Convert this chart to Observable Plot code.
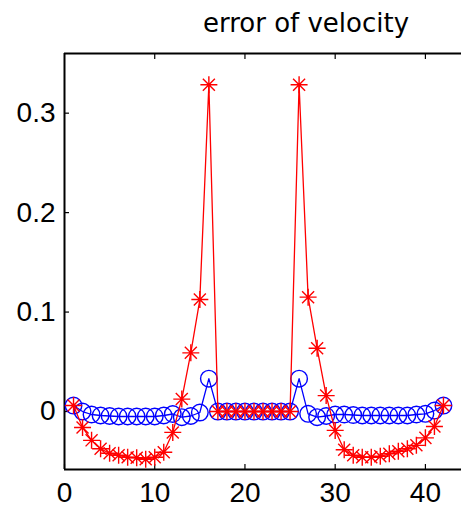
<!DOCTYPE html>
<html>
<head>
<meta charset="utf-8">
<script src="https://cdn.jsdelivr.net/npm/d3@7"></script>
<script src="https://cdn.jsdelivr.net/npm/@observablehq/plot@0.6"></script>
<style>
  html, body { margin: 0; padding: 0; background: #fff; overflow: hidden; }
</style>
</head>
<body>
<div id="chart"></div>
<script>
const title = "error of velocity";
const idx = d3.range(1, 43);
const redValues = [
  0.006, -0.016, -0.029, -0.0375, -0.042, -0.044, -0.046, -0.0465, -0.048, -0.046,
  -0.041, -0.021, 0.0125, 0.059, 0.1126, 0.3286, 0, 0, 0, 0,
  0, 0, 0, 0, 0, 0.3286, 0.115, 0.0636, 0.016, -0.019,
  -0.0385, -0.044, -0.046, -0.046, -0.045, -0.0425, -0.040, -0.0375, -0.034, -0.0265,
  -0.015, 0.006
];
const blueValues = [
  0.006, 0.000, -0.003, -0.004, -0.0045, -0.005, -0.005, -0.005, -0.005, -0.005,
  -0.004, -0.0025, -0.0057, -0.0045, -0.001, 0.033, 0, 0, 0, 0,
  0, 0, 0, 0, 0, 0.033, -0.0023, -0.0057, -0.0045, -0.003,
  -0.003, -0.0035, -0.004, -0.004, -0.004, -0.004, -0.004, -0.004, -0.003, -0.0023,
  0.001, 0.006
];
const xTicks = [0, 10, 20, 30, 40];
const yTicks = [0, 0.1, 0.2, 0.3];
const xLimits = [0, 44];
const yLimits = [-0.0583, 0.36];

const red = idx.map((x, i) => ({x, y: redValues[i]}));
const blue = idx.map((x, i) => ({x, y: blueValues[i]}));

const asterisk8 = {
  draw(ctx, size) {
    const r = Math.sqrt(size / Math.PI);
    const d = r * Math.SQRT1_2;
    ctx.moveTo(-r, 0); ctx.lineTo(r, 0);
    ctx.moveTo(0, -r); ctx.lineTo(0, r);
    ctx.moveTo(-d, -d); ctx.lineTo(d, d);
    ctx.moveTo(-d, d); ctx.lineTo(d, -d);
  }
};

const font = "'Liberation Sans', Arial, sans-serif";

const chart = Plot.plot({
  width: 461,
  height: 509,
  marginLeft: 64,
  marginRight: 0,
  marginTop: 53,
  marginBottom: 40,
  style: { fontFamily: font, fontSize: "28px", color: "#000", background: "#fff", overflow: "visible" },
  x: { domain: xLimits },
  y: { domain: yLimits },
  marks: [
    Plot.axisX({ anchor: "bottom", ticks: xTicks, tickSize: -5, tickPadding: 18, tickFormat: d => String(d), label: null, strokeWidth: 1.2, fontSize: 28 }),
    Plot.axisX({ anchor: "top", ticks: xTicks.filter(d => d > 0), tickSize: -5, tickFormat: () => "", label: null, strokeWidth: 1.2 }),
    Plot.axisY({ anchor: "left", ticks: yTicks, tickSize: -5, tickPadding: 14, tickFormat: d => String(d), label: null, strokeWidth: 1.2, fontSize: 28 }),
    Plot.ruleY([yLimits[0], yLimits[1]], { stroke: "#000", strokeWidth: 2 }),
    Plot.ruleX([xLimits[0]], { stroke: "#000", strokeWidth: 2 }),
    Plot.line(blue, { x: "x", y: "y", stroke: "#0000ff", strokeWidth: 1.3 }),
    Plot.dot(blue, { x: "x", y: "y", r: 8.3, symbol: "circle", stroke: "#0000ff", fill: "none", strokeWidth: 1.4 }),
    Plot.line(red, { x: "x", y: "y", stroke: "#ff0000", strokeWidth: 1.3 }),
    Plot.dot(red, { x: "x", y: "y", r: 8.5, symbol: asterisk8, stroke: "#ff0000", fill: "none", strokeWidth: 1.4 }),
    Plot.text([title], { frameAnchor: "top", dx: 43, dy: -30, text: d => d, fontSize: 26, fontFamily: "'DejaVu Sans', sans-serif", fill: "#000", lineAnchor: "middle" })
  ]
});
document.getElementById("chart").appendChild(chart);
</script>
</body>
</html>
